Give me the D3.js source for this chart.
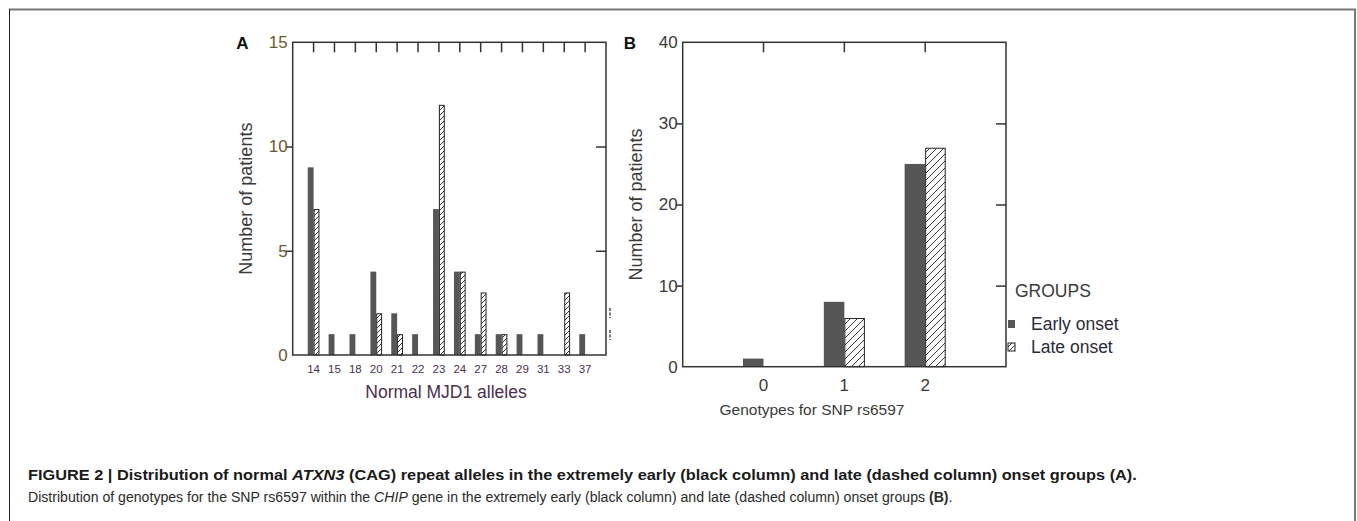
<!DOCTYPE html>
<html>
<head>
<meta charset="utf-8">
<script src="https://cdn.jsdelivr.net/npm/d3@7"></script>
<style>
  html, body { margin: 0; padding: 0; background: #fff; }
  svg { display: block; }
</style>
</head>
<body>
<svg id="chart" width="1357" height="521"></svg>
<script>
// ---- Data ----
const allelesCats  = ["14","15","18","20","21","22","23","24","27","28","29","31","33","37"];
const allelesEarly = [9, 1, 1, 4, 2, 1, 7, 4, 1, 1, 1, 1, 0, 1];
const allelesLate  = [7, 0, 0, 2, 1, 0, 12, 4, 3, 1, 0, 0, 3, 0];
const yTicksA      = [0, 5, 10, 15];

const genotypeCats  = ["0", "1", "2"];
const genotypeEarly = [1, 8, 25];
const genotypeLate  = [0, 6, 27];
const yTicksB       = [0, 10, 20, 30, 40];

const groupLabels = ["Early onset", "Late onset"];

// ---- Setup ----
const svg = d3.select("#chart");
const FONT = "Liberation Sans, Arial, sans-serif";
const EARLY = "#565656";
const FRAME = "#333";

const defs = svg.append("defs");
function hatch(id, size) {
  const p = defs.append("pattern").attr("id", id)
    .attr("patternUnits", "userSpaceOnUse")
    .attr("width", size).attr("height", size);
  p.append("rect").attr("width", size).attr("height", size).attr("fill", "#fff");
  p.append("path")
    .attr("d", `M0,${size} L${size},0 M${-size/2},${size/2} L${size/2},${-size/2} M${size/2},${size*1.5} L${size*1.5},${size/2}`)
    .attr("stroke", "#222").attr("stroke-width", 0.9);
}
hatch("hatchA", 5);
hatch("hatchB", 7);

// outer figure frame
svg.append("line").attr("x1", 9).attr("x2", 1356).attr("y1", 9.5).attr("y2", 9.5)
  .attr("stroke", "#777").attr("stroke-width", 2);
svg.append("line").attr("x1", 9.5).attr("x2", 9.5).attr("y1", 9).attr("y2", 521)
  .attr("stroke", "#222").attr("stroke-width", 1);
svg.append("line").attr("x1", 1355).attr("x2", 1355).attr("y1", 9).attr("y2", 521)
  .attr("stroke", "#777").attr("stroke-width", 2);

function panel(cfg) {
  const { left, right, top, bottom, cats, early, late, yMax, yTicks, barFrac, pat,
          tickFont, xTickFont, xTickY, xTickColor, yTickColor, xTitle, xTitleX, xTitleY,
          xTitleFont, xTitleColor, yTitleX, letter, letterX } = cfg;
  const g = svg.append("g");
  const x = d3.scaleBand().domain(cats).range([left, right]).paddingInner(0).paddingOuter(0.5);
  const y = d3.scaleLinear().domain([0, yMax]).range([bottom, top]);
  const step = x.step();
  const bw = step * barFrac;
  const cx = d => x(d) + x.bandwidth() / 2;

  // bars
  g.selectAll(".early").data(cats.map((c, i) => ({c, v: early[i]})).filter(d => d.v > 0))
    .join("rect").attr("x", d => cx(d.c) - bw).attr("width", bw)
    .attr("y", d => y(d.v)).attr("height", d => y(0) - y(d.v))
    .attr("fill", EARLY);
  g.selectAll(".late").data(cats.map((c, i) => ({c, v: late[i]})).filter(d => d.v > 0))
    .join("rect").attr("x", d => cx(d.c) + 0.5).attr("width", bw - 1)
    .attr("y", d => y(d.v) + 0.5).attr("height", d => y(0) - y(d.v) - 0.5)
    .attr("fill", `url(#${pat})`).attr("stroke", "#222").attr("stroke-width", 1);

  // frame
  g.append("rect").attr("x", left).attr("y", top).attr("width", right - left).attr("height", bottom - top)
    .attr("fill", "none").attr("stroke", FRAME).attr("stroke-width", 1.5);

  // left axis (outward ticks)
  const la = d3.axisLeft(y).tickValues(yTicks).tickSize(7).tickPadding(4);
  const lg = g.append("g").attr("transform", `translate(${left},0)`).call(la);
  lg.select(".domain").remove();
  lg.selectAll(".tick line").attr("stroke", FRAME).attr("stroke-width", 1.5)
    .attr("opacity", d => (d === 0 || d === yMax) ? 0 : 1);
  lg.selectAll(".tick text").attr("font-family", FONT).attr("font-size", tickFont)
    .attr("fill", yTickColor).attr("x", -5);

  // right axis (inward ticks)
  const ra = d3.axisRight(y).tickValues(yTicks.filter(t => t !== 0 && t !== yMax)).tickSize(-10).tickFormat("");
  const rg = g.append("g").attr("transform", `translate(${right},0)`).call(ra);
  rg.select(".domain").remove();
  rg.selectAll(".tick line").attr("stroke", FRAME).attr("stroke-width", 1.5);

  // top axis (inward ticks)
  const ta = d3.axisTop(x).tickSize(-10).tickFormat("");
  const tg = g.append("g").attr("transform", `translate(0,${top})`).call(ta);
  tg.select(".domain").remove();
  tg.selectAll(".tick line").attr("stroke", FRAME).attr("stroke-width", 1.5);

  // bottom tick labels
  const ba = d3.axisBottom(x).tickSize(0).tickPadding(0);
  const bg = g.append("g").attr("transform", `translate(0,${xTickY})`).call(ba);
  bg.select(".domain").remove();
  bg.selectAll(".tick text").attr("font-family", FONT).attr("font-size", xTickFont)
    .attr("fill", xTickColor).attr("dy", "0.35em").attr("y", 0);

  // titles
  g.append("text").attr("x", xTitleX).attr("y", xTitleY).attr("text-anchor", "middle")
    .attr("dy", "0.35em").attr("font-family", FONT).attr("font-size", xTitleFont)
    .attr("fill", xTitleColor).text(xTitle);
  g.append("text").attr("transform", `translate(${yTitleX},${(top + bottom) / 2}) rotate(-90)`)
    .attr("text-anchor", "middle").attr("dy", "0.35em")
    .attr("font-family", FONT).attr("font-size", 18).attr("fill", "#3a3a3a").text("Number of patients");
  g.append("text").attr("x", letterX).attr("y", 43).attr("text-anchor", "middle").attr("dy", "0.35em")
    .attr("font-family", FONT).attr("font-weight", "bold").attr("font-size", 17).attr("fill", "#111").text(letter);
  return { x, y, g };
}

panel({
  left: 292.7, right: 606, top: 42.3, bottom: 355,
  cats: allelesCats, early: allelesEarly, late: allelesLate, yMax: 15, yTicks: yTicksA,
  barFrac: 0.28, pat: "hatchA",
  tickFont: 17, xTickFont: 11.5, xTickY: 369, xTickColor: "#4a2f55", yTickColor: "#6a5a30",
  xTitle: "Normal MJD1 alleles", xTitleX: 446, xTitleY: 392, xTitleFont: 17.5, xTitleColor: "#4a3050",
  yTitleX: 246, letter: "A", letterX: 242.5
});

panel({
  left: 682.7, right: 1006, top: 42.3, bottom: 366.7,
  cats: genotypeCats, early: genotypeEarly, late: genotypeLate, yMax: 40, yTicks: yTicksB,
  barFrac: 0.254, pat: "hatchB",
  tickFont: 17, xTickFont: 17, xTickY: 385, xTickColor: "#3a3a3a", yTickColor: "#3a3a3a",
  xTitle: "Genotypes for SNP rs6597", xTitleX: 812, xTitleY: 410, xTitleFont: 15.5, xTitleColor: "#3a3a3a",
  yTitleX: 636, letter: "B", letterX: 630
});

// small cropped legend remnants at right edge of panel A
[[308, 318], [330, 340]].forEach(([a, b]) => {
  svg.append("line").attr("x1", 610).attr("x2", 610).attr("y1", a).attr("y2", b)
    .attr("stroke", "#777").attr("stroke-width", 2).attr("stroke-dasharray", "3,1.5");
});

// legend for panel B
const lg = svg.append("g");
lg.append("text").attr("x", 1015).attr("y", 297).attr("font-family", FONT).attr("font-size", 17.5)
  .attr("fill", "#3a3a3a").text("GROUPS");
const legendFills = [EARLY, "url(#hatchA)"];
groupLabels.forEach((lab, i) => {
  const yy = 324 + i * 23;
  lg.append("rect").attr("x", 1008).attr("y", yy - 4).attr("width", 7).attr("height", 8)
    .attr("fill", legendFills[i]).attr("stroke", i ? "#222" : "none").attr("stroke-width", 1);
  lg.append("text").attr("x", 1031).attr("y", yy).attr("dy", "0.35em")
    .attr("font-family", FONT).attr("font-size", 17.5).attr("fill", "#2a2a3a").text(lab);
});

// caption
function fitText(sel, targetWidth) {
  const w = sel.node().getComputedTextLength();
  const x0 = +sel.attr("x");
  sel.attr("transform", `translate(${x0},0) scale(${targetWidth / w},1) translate(${-x0},0)`);
}
const cap1 = svg.append("text").attr("x", 28).attr("y", 480).attr("font-family", FONT)
  .attr("font-size", 14.5).attr("font-weight", "bold").attr("fill", "#1a1a1a");
cap1.append("tspan").text("FIGURE 2 | Distribution of normal ");
cap1.append("tspan").attr("font-style", "italic").text("ATXN3");
cap1.append("tspan").text(" (CAG) repeat alleles in the extremely early (black column) and late (dashed column) onset groups (A).");
fitText(cap1, 1110);

const cap2 = svg.append("text").attr("x", 28).attr("y", 502).attr("font-family", FONT)
  .attr("font-size", 14.5).attr("fill", "#2a2a2a");
cap2.append("tspan").text("Distribution of genotypes for the SNP rs6597 within the ");
cap2.append("tspan").attr("font-style", "italic").text("CHIP");
cap2.append("tspan").text(" gene in the extremely early (black column) and late (dashed column) onset groups ");
cap2.append("tspan").attr("font-weight", "bold").text("(B)");
cap2.append("tspan").text(".");
fitText(cap2, 925);
</script>
</body>
</html>
